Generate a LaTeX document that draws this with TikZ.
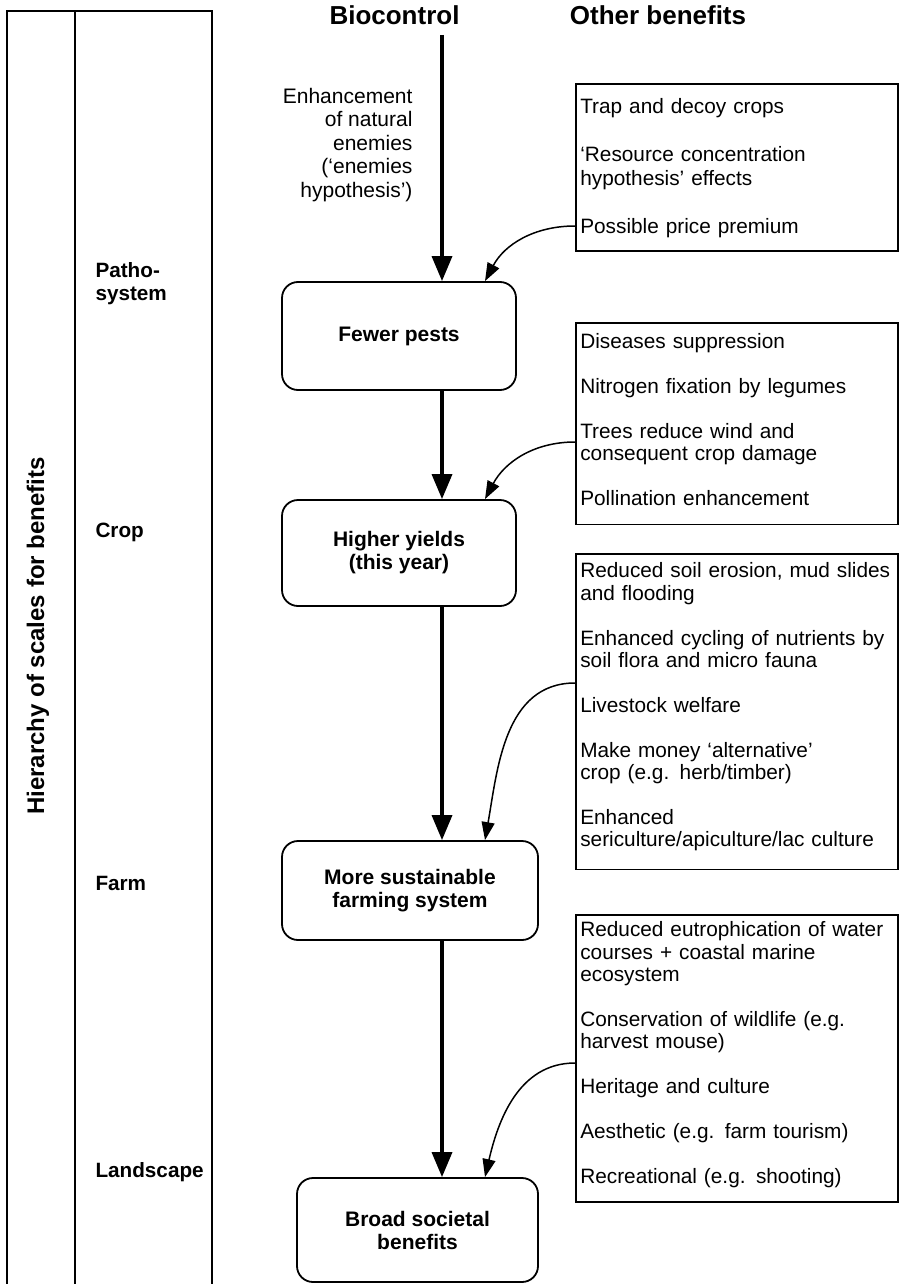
\documentclass[tikz,border=0pt]{standalone}
\usepackage{fontspec}
\setmainfont{Liberation Sans}
\usepackage{tikz}
\usetikzlibrary{arrows.meta, positioning, calc}

\begin{document}
\begin{tikzpicture}[
   x=1pt, y=-1pt,
   >={Triangle[length=25pt, width=20pt]},
   stage/.style={draw, line width=1.8pt, rounded corners=16pt, align=center,
                 font=\fontsize{21}{23}\selectfont\bfseries,
                 minimum width=#1, inner sep=0pt},
   info/.style={draw, line width=1.6pt, anchor=north west, align=left,
                text width=313pt, inner xsep=4.5pt, inner ysep=0pt,
                font=\fontsize{20.8}{#1}\selectfont},
   level/.style={anchor=base west, align=left,
                 font=\fontsize{20.7}{23}\selectfont\bfseries},
   head/.style={anchor=base, font=\fontsize{26}{30}\selectfont\bfseries},
   flow/.style={->, line width=3.5pt},
   feed/.style={-{Triangle[length=18pt, width=13pt]}, line width=1.5pt},
]
\useasboundingbox (0,0) rectangle (899,1284);

% ---- scale columns ----
\draw[line width=1.5pt] (7,1284) -- (7,11) -- (212,11) -- (212,1284);
\draw[line width=1.5pt] (75,11) -- (75,1284);
\node[rotate=90, font=\fontsize{24}{28}\selectfont\bfseries] (hier) at (38,636)
   {Hierarchy of scales for benefits};
\node[level] (patho) at (92,300) {Patho-\\system};
\node[level] (crop)  at (92,537) {Crop};
\node[level] (farm)  at (92,890) {Farm};
\node[level] (land)  at (92,1177) {Landscape};

% ---- headings ----
\node[head] (bio)   at (394.5,25) {Biocontrol};
\node[head] (other) at (658,25) {Other benefits};

\node[anchor=base east, align=right, font=\fontsize{21}{23.5}\selectfont] (enh) at (416,197)
   {Enhancement\\of natural\\enemies\\(‘enemies\\hypothesis’)};

% ---- biocontrol chain ----
\node[stage=234pt, minimum height=108pt] (fewer)    at (399,336)   {Fewer pests};
\node[stage=234pt, minimum height=106pt] (higher)   at (399,553)   {Higher yields\\(this year)};
\node[stage=256pt, minimum height=99pt]  (farming)  at (410,890.5) {More sustainable\\farming system};
\node[stage=241pt, minimum height=104pt] (societal) at (417.5,1230) {Broad societal\\benefits};

% ---- other benefits ----
\node[info=24pt] (trap) at (575,83)
   {\rule{0pt}{30pt}Trap and decoy crops\\[24pt]
   ‘Resource concentration\\
   hypothesis’ effects\\[24pt]
   Possible price premium\rule[-17pt]{0pt}{17pt}};

\node[info=22.4pt] (disease) at (575,322)
   {\rule{0pt}{26pt}Diseases suppression\\[22.4pt]
   Nitrogen fixation by legumes\\[22.4pt]
   Trees reduce wind and\\
   consequent crop damage\\[22.4pt]
   Pollination enhancement\rule[-19pt]{0pt}{19pt}};

\node[info=22.4pt] (erosion) at (575,553)
   {\rule{0pt}{24pt}Reduced soil erosion, mud slides\\
   and flooding\\[22.4pt]
   Enhanced cycling of nutrients by\\
   soil flora and micro fauna\\[22.4pt]
   Livestock welfare\\[22.4pt]
   Make money ‘alternative’\\
   crop (e.g. herb/timber)\\[22.4pt]
   Enhanced\\
   sericulture/apiculture/lac culture\rule[-23pt]{0pt}{23pt}};

\node[info=22.4pt] (water) at (575,914)
   {\rule{0pt}{22pt}Reduced eutrophication of water\\
   courses + coastal marine\\
   ecosystem\\[22.4pt]
   Conservation of wildlife (e.g.\\
   harvest mouse)\\[22.4pt]
   Heritage and culture\\[22.4pt]
   Aesthetic (e.g. farm tourism)\\[22.4pt]
   Recreational (e.g. shooting)\rule[-19pt]{0pt}{19pt}};

% ---- arrows ----
\coordinate (spine) at (442,35);
\coordinate (side)  at (485,0);
\draw[flow] (spine) -- (spine |- fewer.north);
\draw[flow] (fewer.south -| spine) -- (spine |- higher.north);
\draw[flow] (higher.south -| spine) -- (spine |- farming.north);
\draw[flow] (farming.south -| spine) -- (spine |- societal.north);

\coordinate (trapout)    at (575,226);
\coordinate (diseaseout) at (575,442);
\coordinate (erosionout) at (575,683);
\coordinate (waterout)   at (575,1063);
\draw[feed] (trapout)    to[out=180,in=62] (side |- fewer.north);
\draw[feed] (diseaseout) to[out=180,in=62] (side |- higher.north);
\draw[feed] (erosionout) to[out=180,in=80] (side |- farming.north);
\draw[feed] (waterout)   to[out=180,in=77] (side |- societal.north);
\end{tikzpicture}
\end{document}
